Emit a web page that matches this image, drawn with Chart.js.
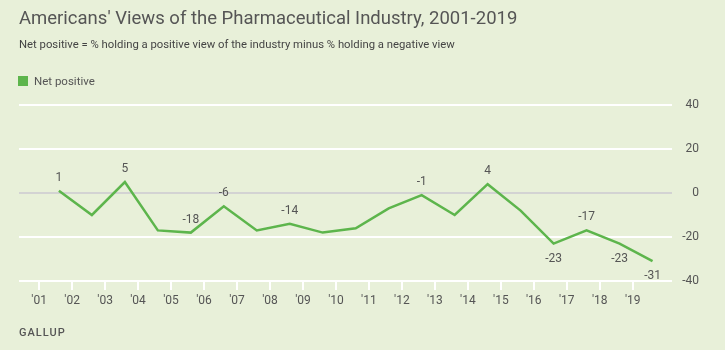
<!DOCTYPE html>
<html>
<head>
<meta charset="utf-8">
<script src="https://cdn.jsdelivr.net/npm/chart.js@4/dist/chart.umd.min.js"></script>
<style>
  html, body { margin: 0; padding: 0; }
  body { width: 725px; height: 350px; background: #e8f0d9; position: relative; overflow: hidden; font-family: Roboto, "Open Sans", sans-serif; color: #555; }
  #wrap { position: absolute; left: 0; top: 0; width: 725px; height: 350px; }
  .t { position: absolute; white-space: nowrap; }
  #title { left: 19px; top: 7px; font-size: 18.5px; color: #555; }
  #sub { left: 19px; top: 38px; font-size: 11.3px; color: #444; }
  #legend { left: 18px; top: 74px; font-size: 11.5px; color: #555; display: flex; align-items: center; }
  #legend .sw { width: 10px; height: 10px; background: #5db54c; margin-right: 6px; }
  #src { left: 19px; top: 326px; font-size: 11px; letter-spacing: 1px; color: #555; font-weight: 500; }
</style>
</head>
<body>
<div id="wrap"><canvas id="c" width="725" height="350"></canvas></div>
<div class="t" id="title">Americans' Views of the Pharmaceutical Industry, 2001-2019</div>
<div class="t" id="sub">Net positive = % holding a positive view of the industry minus % holding a negative view</div>
<div class="t" id="legend"><span class="sw"></span><span>Net positive</span></div>
<div class="t" id="src">GALLUP</div>
<script>
// ---- data ----
const years = [2001, 2002, 2003, 2004, 2005, 2006, 2007, 2008, 2009, 2010, 2011, 2012, 2013, 2014, 2015, 2016, 2017, 2018, 2019];
const netPositive = [1, -10, 5, -17, -18, -6, -17, -14, -18, -16, -7, -1, -10, 4, -8, -23, -17, -23, -31];
const shownLabels = [true, false, true, false, true, true, false, true, false, false, false, true, false, true, false, true, true, true, true];
const yTicks = [-40, -20, 0, 20, 40];
const seriesName = 'Net positive';
// ---- style ----
const labelPlacement = ['above','above','above','above','above','above','above','above','above','above','above','above','above','above','above','below','above','below','below'];
const surveyOffset = 0.6; // August fieldwork, as fraction of the year
const lineColor = '#5db54c';

const points = years.map((yr, i) => ({ x: yr + surveyOffset, y: netPositive[i] }));

const labelPlugin = {
  id: 'pointLabels',
  afterDatasetsDraw(chart) {
    const ctx = chart.ctx;
    const meta = chart.getDatasetMeta(0);
    ctx.save();
    ctx.font = '12px Roboto, "Open Sans", sans-serif';
    ctx.fillStyle = '#555';
    ctx.textAlign = 'center';
    ctx.textBaseline = 'middle';
    meta.data.forEach((pt, i) => {
      if (!shownLabels[i]) return;
      const v = netPositive[i];
      const yy = labelPlacement[i] === 'below' ? pt.y + 15 : pt.y - 13;
      ctx.fillText(String(v), pt.x, yy);
    });
    ctx.restore();
  }
};

new Chart(document.getElementById('c'), {
  type: 'line',
  data: {
    datasets: [{
      label: seriesName,
      data: points,
      borderColor: lineColor,
      backgroundColor: lineColor,
      borderWidth: 2.5,
      pointRadius: 0,
      tension: 0,
      fill: false
    }]
  },
  options: {
    responsive: false,
    animation: false,
    layout: { padding: { left: 19, right: 26, top: 105, bottom: 39 } },
    plugins: { legend: { display: false }, tooltip: { enabled: false } },
    scales: {
      x: {
        type: 'linear',
        min: 2000.39,
        max: 2020.19,
        afterBuildTicks(scale) { scale.ticks = years.map(v => ({ value: v })); },
        afterFit(scale) { scale.height = 30; },
        ticks: {
          autoSkip: false,
          maxRotation: 0,
          padding: 4,
          color: '#555',
          font: { size: 12, family: 'Roboto, "Open Sans", sans-serif' },
          callback: (v) => "'" + String(v % 100).padStart(2, '0')
        },
        grid: { drawOnChartArea: false, drawTicks: true, tickLength: 9, color: '#ffffff', lineWidth: 2 },
        border: { display: false }
      },
      y: {
        position: 'right',
        min: -40,
        max: 40,
        afterBuildTicks(scale) { scale.ticks = yTicks.map(v => ({ value: v })); },
        afterFit(scale) { scale.width = 27; },
        ticks: {
          crossAlign: 'far',
          padding: 9,
          color: '#555',
          font: { size: 12, family: 'Roboto, "Open Sans", sans-serif' }
        },
        grid: {
          drawTicks: false,
          lineWidth: 2,
          color: (ctx) => (ctx.tick && ctx.tick.value === 0 ? '#d3d3d3' : '#ffffff')
        },
        border: { display: false }
      }
    }
  },
  plugins: [labelPlugin]
});
</script>
</body>
</html>
